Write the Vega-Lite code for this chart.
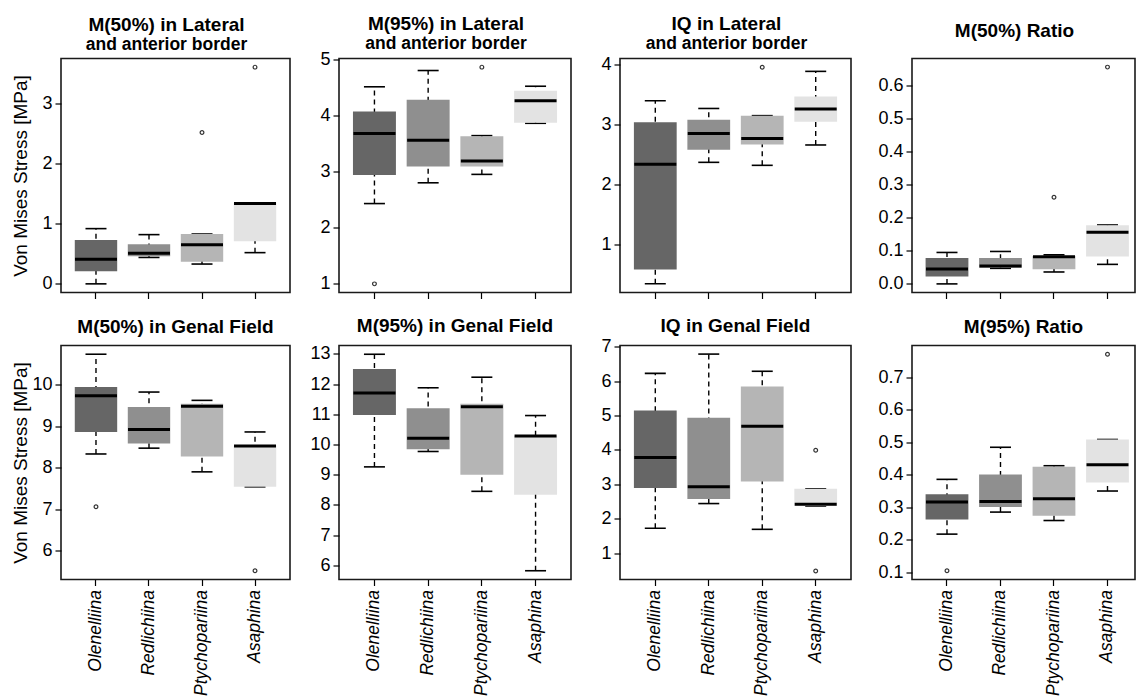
{
"$schema": "https://vega.github.io/schema/vega-lite/v6.json",
"background": "white",
"padding": {"left": 10, "top": 13.5, "right": 0, "bottom": 0},
"datasets": {
"boxes": [
{"panel":"p1","group":"Olenelliina","lower":0.00,"q1":0.21,"median":0.41,"q3":0.73,"upper":0.92},
{"panel":"p1","group":"Redlichiina","lower":0.44,"q1":0.46,"median":0.51,"q3":0.66,"upper":0.82},
{"panel":"p1","group":"Ptychopariina","lower":0.33,"q1":0.37,"median":0.65,"q3":0.83,"upper":0.83},
{"panel":"p1","group":"Asaphina","lower":0.52,"q1":0.71,"median":1.34,"q3":1.35,"upper":1.35},
{"panel":"p2","group":"Olenelliina","lower":2.43,"q1":2.94,"median":3.68,"q3":4.07,"upper":4.51},
{"panel":"p2","group":"Redlichiina","lower":2.80,"q1":3.09,"median":3.56,"q3":4.28,"upper":4.80},
{"panel":"p2","group":"Ptychopariina","lower":2.95,"q1":3.09,"median":3.19,"q3":3.63,"upper":3.64},
{"panel":"p2","group":"Asaphina","lower":3.86,"q1":3.87,"median":4.26,"q3":4.44,"upper":4.52},
{"panel":"p3","group":"Olenelliina","lower":0.34,"q1":0.58,"median":2.34,"q3":3.04,"upper":3.40},
{"panel":"p3","group":"Redlichiina","lower":2.37,"q1":2.58,"median":2.85,"q3":3.08,"upper":3.27},
{"panel":"p3","group":"Ptychopariina","lower":2.32,"q1":2.67,"median":2.77,"q3":3.15,"upper":3.15},
{"panel":"p3","group":"Asaphina","lower":2.66,"q1":3.05,"median":3.26,"q3":3.47,"upper":3.89},
{"panel":"p4","group":"Olenelliina","lower":0.000,"q1":0.022,"median":0.045,"q3":0.078,"upper":0.095},
{"panel":"p4","group":"Redlichiina","lower":0.047,"q1":0.049,"median":0.054,"q3":0.078,"upper":0.098},
{"panel":"p4","group":"Ptychopariina","lower":0.036,"q1":0.044,"median":0.082,"q3":0.084,"upper":0.088},
{"panel":"p4","group":"Asaphina","lower":0.059,"q1":0.083,"median":0.156,"q3":0.177,"upper":0.178},
{"panel":"p5","group":"Olenelliina","lower":8.33,"q1":8.86,"median":9.73,"q3":9.94,"upper":10.73},
{"panel":"p5","group":"Redlichiina","lower":8.47,"q1":8.58,"median":8.92,"q3":9.46,"upper":9.82},
{"panel":"p5","group":"Ptychopariina","lower":7.90,"q1":8.27,"median":9.48,"q3":9.54,"upper":9.62},
{"panel":"p5","group":"Asaphina","lower":7.54,"q1":7.54,"median":8.52,"q3":8.53,"upper":8.86},
{"panel":"p6","group":"Olenelliina","lower":9.26,"q1":10.98,"median":11.71,"q3":12.50,"upper":12.99},
{"panel":"p6","group":"Redlichiina","lower":9.77,"q1":9.84,"median":10.21,"q3":11.20,"upper":11.88},
{"panel":"p6","group":"Ptychopariina","lower":8.45,"q1":9.00,"median":11.25,"q3":11.35,"upper":12.23},
{"panel":"p6","group":"Asaphina","lower":5.82,"q1":8.34,"median":10.28,"q3":10.29,"upper":10.96},
{"panel":"p7","group":"Olenelliina","lower":1.72,"q1":2.89,"median":3.78,"q3":5.15,"upper":6.23},
{"panel":"p7","group":"Redlichiina","lower":2.44,"q1":2.57,"median":2.93,"q3":4.94,"upper":6.79},
{"panel":"p7","group":"Ptychopariina","lower":1.69,"q1":3.08,"median":4.69,"q3":5.85,"upper":6.29},
{"panel":"p7","group":"Asaphina","lower":2.37,"q1":2.37,"median":2.42,"q3":2.87,"upper":2.87},
{"panel":"p8","group":"Olenelliina","lower":0.217,"q1":0.262,"median":0.316,"q3":0.340,"upper":0.386},
{"panel":"p8","group":"Redlichiina","lower":0.285,"q1":0.301,"median":0.318,"q3":0.401,"upper":0.485},
{"panel":"p8","group":"Ptychopariina","lower":0.259,"q1":0.274,"median":0.326,"q3":0.425,"upper":0.428},
{"panel":"p8","group":"Asaphina","lower":0.350,"q1":0.376,"median":0.431,"q3":0.509,"upper":0.509}
],
"outliers": [
{"panel":"p1","group":"Ptychopariina","value":2.52},
{"panel":"p1","group":"Asaphina","value":3.61},
{"panel":"p2","group":"Olenelliina","value":1.00},
{"panel":"p2","group":"Ptychopariina","value":4.86},
{"panel":"p3","group":"Ptychopariina","value":3.96},
{"panel":"p4","group":"Ptychopariina","value":0.262},
{"panel":"p4","group":"Asaphina","value":0.655},
{"panel":"p5","group":"Olenelliina","value":7.06},
{"panel":"p5","group":"Asaphina","value":5.52},
{"panel":"p7","group":"Asaphina","value":3.99},
{"panel":"p7","group":"Asaphina","value":0.48},
{"panel":"p8","group":"Olenelliina","value":0.104},
{"panel":"p8","group":"Asaphina","value":0.772}
]
},
"columns": 7,
"align": "each",
"bounds": "flush",
"spacing": {"row": 53, "column": 0},
"concat": [
{
"title": {"text": "M(50%) in Lateral", "subtitle": "and anterior border", "offset": 5.5, "dx": -9},
"width": 229, "height": 234,
"data": {"name": "boxes"}, "transform": [{"filter": "datum.panel === 'p1'"}],
"encoding": {"x": {"field": "group", "type": "nominal", "title": null, "scale": {"domain": ["Olenelliina","Redlichiina","Ptychopariina","Asaphina"], "paddingInner": 0.2, "paddingOuter": 0.26}, "axis": {"labels": false}}},
"layer": [
{"mark": {"type": "rule", "strokeDash": [5,4], "strokeWidth": 1.4, "color": "black"}, "encoding": {"y": {"field": "lower", "type": "quantitative", "scale": {"domain": [-0.144,3.754], "nice": false, "zero": false}, "axis": {"values": [0,1,2,3], "title": "Von Mises Stress [MPa]", "titleX": -35, "titleY": 117, "titleBaseline": "alphabetic"}}, "y2": {"field": "upper"}}},
{"transform": [{"fold": ["lower","upper"], "as": ["end","cap"]}], "mark": {"type": "tick", "size": 21, "thickness": 1.6, "color": "black", "opacity": 1}, "encoding": {"y": {"field": "cap", "type": "quantitative", "scale": {"domain": [-0.144,3.754], "nice": false, "zero": false}, "axis": {"values": [0,1,2,3], "title": "Von Mises Stress [MPa]", "titleX": -35, "titleY": 117, "titleBaseline": "alphabetic"}}}},
{"mark": {"type": "bar", "opacity": 1}, "encoding": {"y": {"field": "q1", "type": "quantitative", "scale": {"domain": [-0.144,3.754], "nice": false, "zero": false}, "axis": {"values": [0,1,2,3], "title": "Von Mises Stress [MPa]", "titleX": -35, "titleY": 117, "titleBaseline": "alphabetic"}}, "y2": {"field": "q3"}, "color": {"field": "group", "type": "nominal", "scale": {"domain": ["Olenelliina","Redlichiina","Ptychopariina","Asaphina"], "range": ["#666666","#8f8f8f","#b5b5b5","#e3e3e3"]}, "legend": null}}},
{"mark": {"type": "tick", "size": 42, "thickness": 3, "color": "black", "opacity": 1}, "encoding": {"y": {"field": "median", "type": "quantitative", "scale": {"domain": [-0.144,3.754], "nice": false, "zero": false}, "axis": {"values": [0,1,2,3], "title": "Von Mises Stress [MPa]", "titleX": -35, "titleY": 117, "titleBaseline": "alphabetic"}}}},
{"data": {"name": "outliers"}, "transform": [{"filter": "datum.panel === 'p1'"}], "mark": {"type": "point", "filled": false, "size": 14, "strokeWidth": 1.2, "color": "#333333", "opacity": 1}, "encoding": {"y": {"field": "value", "type": "quantitative", "scale": {"domain": [-0.144,3.754], "nice": false, "zero": false}, "axis": {"values": [0,1,2,3], "title": "Von Mises Stress [MPa]", "titleX": -35, "titleY": 117, "titleBaseline": "alphabetic"}}}}
]
},
{"width": 49, "height": 234, "data": {"values": [{"s": ""}]}, "mark": {"type": "text", "text": ""}, "view": {"stroke": null}},
{
"title": {"text": "M(95%) in Lateral", "subtitle": "and anterior border", "offset": -2, "dx": -9},
"width": 232, "height": 234,
"data": {"name": "boxes"}, "transform": [{"filter": "datum.panel === 'p2'"}],
"encoding": {"x": {"field": "group", "type": "nominal", "title": null, "scale": {"domain": ["Olenelliina","Redlichiina","Ptychopariina","Asaphina"], "paddingInner": 0.2, "paddingOuter": 0.26}, "axis": {"labels": false}}},
"layer": [
{"mark": {"type": "rule", "strokeDash": [5,4], "strokeWidth": 1.4, "color": "black"}, "encoding": {"y": {"field": "lower", "type": "quantitative", "scale": {"domain": [0.846,5.014], "nice": false, "zero": false}, "axis": {"values": [1,2,3,4,5], "title": null}}, "y2": {"field": "upper"}}},
{"transform": [{"fold": ["lower","upper"], "as": ["end","cap"]}], "mark": {"type": "tick", "size": 21, "thickness": 1.6, "color": "black", "opacity": 1}, "encoding": {"y": {"field": "cap", "type": "quantitative", "scale": {"domain": [0.846,5.014], "nice": false, "zero": false}, "axis": {"values": [1,2,3,4,5], "title": null}}}},
{"mark": {"type": "bar", "opacity": 1}, "encoding": {"y": {"field": "q1", "type": "quantitative", "scale": {"domain": [0.846,5.014], "nice": false, "zero": false}, "axis": {"values": [1,2,3,4,5], "title": null}}, "y2": {"field": "q3"}, "color": {"field": "group", "type": "nominal", "scale": {"domain": ["Olenelliina","Redlichiina","Ptychopariina","Asaphina"], "range": ["#666666","#8f8f8f","#b5b5b5","#e3e3e3"]}, "legend": null}}},
{"mark": {"type": "tick", "size": 42, "thickness": 3, "color": "black", "opacity": 1}, "encoding": {"y": {"field": "median", "type": "quantitative", "scale": {"domain": [0.846,5.014], "nice": false, "zero": false}, "axis": {"values": [1,2,3,4,5], "title": null}}}},
{"data": {"name": "outliers"}, "transform": [{"filter": "datum.panel === 'p2'"}], "mark": {"type": "point", "filled": false, "size": 14, "strokeWidth": 1.2, "color": "#333333", "opacity": 1}, "encoding": {"y": {"field": "value", "type": "quantitative", "scale": {"domain": [0.846,5.014], "nice": false, "zero": false}, "axis": {"values": [1,2,3,4,5], "title": null}}}}
]
},
{"width": 49, "height": 234, "data": {"values": [{"s": ""}]}, "mark": {"type": "text", "text": ""}, "view": {"stroke": null}},
{
"title": {"text": "IQ in Lateral", "subtitle": "and anterior border", "offset": 3, "dx": -9},
"width": 231, "height": 234,
"data": {"name": "boxes"}, "transform": [{"filter": "datum.panel === 'p3'"}],
"encoding": {"x": {"field": "group", "type": "nominal", "title": null, "scale": {"domain": ["Olenelliina","Redlichiina","Ptychopariina","Asaphina"], "paddingInner": 0.2, "paddingOuter": 0.26}, "axis": {"labels": false}}},
"layer": [
{"mark": {"type": "rule", "strokeDash": [5,4], "strokeWidth": 1.4, "color": "black"}, "encoding": {"y": {"field": "lower", "type": "quantitative", "scale": {"domain": [0.195,4.105], "nice": false, "zero": false}, "axis": {"values": [1,2,3,4], "title": null}}, "y2": {"field": "upper"}}},
{"transform": [{"fold": ["lower","upper"], "as": ["end","cap"]}], "mark": {"type": "tick", "size": 21, "thickness": 1.6, "color": "black", "opacity": 1}, "encoding": {"y": {"field": "cap", "type": "quantitative", "scale": {"domain": [0.195,4.105], "nice": false, "zero": false}, "axis": {"values": [1,2,3,4], "title": null}}}},
{"mark": {"type": "bar", "opacity": 1}, "encoding": {"y": {"field": "q1", "type": "quantitative", "scale": {"domain": [0.195,4.105], "nice": false, "zero": false}, "axis": {"values": [1,2,3,4], "title": null}}, "y2": {"field": "q3"}, "color": {"field": "group", "type": "nominal", "scale": {"domain": ["Olenelliina","Redlichiina","Ptychopariina","Asaphina"], "range": ["#666666","#8f8f8f","#b5b5b5","#e3e3e3"]}, "legend": null}}},
{"mark": {"type": "tick", "size": 42, "thickness": 3, "color": "black", "opacity": 1}, "encoding": {"y": {"field": "median", "type": "quantitative", "scale": {"domain": [0.195,4.105], "nice": false, "zero": false}, "axis": {"values": [1,2,3,4], "title": null}}}},
{"data": {"name": "outliers"}, "transform": [{"filter": "datum.panel === 'p3'"}], "mark": {"type": "point", "filled": false, "size": 14, "strokeWidth": 1.2, "color": "#333333", "opacity": 1}, "encoding": {"y": {"field": "value", "type": "quantitative", "scale": {"domain": [0.195,4.105], "nice": false, "zero": false}, "axis": {"values": [1,2,3,4], "title": null}}}}
]
},
{"width": 61, "height": 234, "data": {"values": [{"s": ""}]}, "mark": {"type": "text", "text": ""}, "view": {"stroke": null}},
{
"title": {"text": "M(50%) Ratio", "offset": 18, "dx": -9},
"width": 223, "height": 234,
"data": {"name": "boxes"}, "transform": [{"filter": "datum.panel === 'p4'"}],
"encoding": {"x": {"field": "group", "type": "nominal", "title": null, "scale": {"domain": ["Olenelliina","Redlichiina","Ptychopariina","Asaphina"], "paddingInner": 0.2, "paddingOuter": 0.184, "align": 0.69}, "axis": {"labels": false}}},
"layer": [
{"mark": {"type": "rule", "strokeDash": [5,4], "strokeWidth": 1.4, "color": "black"}, "encoding": {"y": {"field": "lower", "type": "quantitative", "scale": {"domain": [-0.026,0.681], "nice": false, "zero": false}, "axis": {"values": [0,0.1,0.2,0.3,0.4,0.5,0.6], "format": ".1f", "title": null}}, "y2": {"field": "upper"}}},
{"transform": [{"fold": ["lower","upper"], "as": ["end","cap"]}], "mark": {"type": "tick", "size": 21, "thickness": 1.6, "color": "black", "opacity": 1}, "encoding": {"y": {"field": "cap", "type": "quantitative", "scale": {"domain": [-0.026,0.681], "nice": false, "zero": false}, "axis": {"values": [0,0.1,0.2,0.3,0.4,0.5,0.6], "format": ".1f", "title": null}}}},
{"mark": {"type": "bar", "opacity": 1}, "encoding": {"y": {"field": "q1", "type": "quantitative", "scale": {"domain": [-0.026,0.681], "nice": false, "zero": false}, "axis": {"values": [0,0.1,0.2,0.3,0.4,0.5,0.6], "format": ".1f", "title": null}}, "y2": {"field": "q3"}, "color": {"field": "group", "type": "nominal", "scale": {"domain": ["Olenelliina","Redlichiina","Ptychopariina","Asaphina"], "range": ["#666666","#8f8f8f","#b5b5b5","#e3e3e3"]}, "legend": null}}},
{"mark": {"type": "tick", "size": 42, "thickness": 3, "color": "black", "opacity": 1}, "encoding": {"y": {"field": "median", "type": "quantitative", "scale": {"domain": [-0.026,0.681], "nice": false, "zero": false}, "axis": {"values": [0,0.1,0.2,0.3,0.4,0.5,0.6], "format": ".1f", "title": null}}}},
{"data": {"name": "outliers"}, "transform": [{"filter": "datum.panel === 'p4'"}], "mark": {"type": "point", "filled": false, "size": 14, "strokeWidth": 1.2, "color": "#333333", "opacity": 1}, "encoding": {"y": {"field": "value", "type": "quantitative", "scale": {"domain": [-0.026,0.681], "nice": false, "zero": false}, "axis": {"values": [0,0.1,0.2,0.3,0.4,0.5,0.6], "format": ".1f", "title": null}}}}
]
},
{
"title": {"text": "M(50%) in Genal Field", "offset": 9},
"width": 229, "height": 234,
"data": {"name": "boxes"}, "transform": [{"filter": "datum.panel === 'p5'"}],
"encoding": {"x": {"field": "group", "type": "nominal", "title": null, "scale": {"domain": ["Olenelliina","Redlichiina","Ptychopariina","Asaphina"], "paddingInner": 0.2, "paddingOuter": 0.26}, "axis": {"labelAngle": -90, "labelFontStyle": "italic", "labelFontSize": 17.5, "labelAlign": "right", "labelBaseline": "middle", "labelPadding": 4}}},
"layer": [
{"mark": {"type": "rule", "strokeDash": [5,4], "strokeWidth": 1.4, "color": "black"}, "encoding": {"y": {"field": "lower", "type": "quantitative", "scale": {"domain": [5.31,10.94], "nice": false, "zero": false}, "axis": {"values": [6,7,8,9,10], "title": "Von Mises Stress [MPa]", "titleX": -35, "titleY": 117, "titleBaseline": "alphabetic"}}, "y2": {"field": "upper"}}},
{"transform": [{"fold": ["lower","upper"], "as": ["end","cap"]}], "mark": {"type": "tick", "size": 21, "thickness": 1.6, "color": "black", "opacity": 1}, "encoding": {"y": {"field": "cap", "type": "quantitative", "scale": {"domain": [5.31,10.94], "nice": false, "zero": false}, "axis": {"values": [6,7,8,9,10], "title": "Von Mises Stress [MPa]", "titleX": -35, "titleY": 117, "titleBaseline": "alphabetic"}}}},
{"mark": {"type": "bar", "opacity": 1}, "encoding": {"y": {"field": "q1", "type": "quantitative", "scale": {"domain": [5.31,10.94], "nice": false, "zero": false}, "axis": {"values": [6,7,8,9,10], "title": "Von Mises Stress [MPa]", "titleX": -35, "titleY": 117, "titleBaseline": "alphabetic"}}, "y2": {"field": "q3"}, "color": {"field": "group", "type": "nominal", "scale": {"domain": ["Olenelliina","Redlichiina","Ptychopariina","Asaphina"], "range": ["#666666","#8f8f8f","#b5b5b5","#e3e3e3"]}, "legend": null}}},
{"mark": {"type": "tick", "size": 42, "thickness": 3, "color": "black", "opacity": 1}, "encoding": {"y": {"field": "median", "type": "quantitative", "scale": {"domain": [5.31,10.94], "nice": false, "zero": false}, "axis": {"values": [6,7,8,9,10], "title": "Von Mises Stress [MPa]", "titleX": -35, "titleY": 117, "titleBaseline": "alphabetic"}}}},
{"data": {"name": "outliers"}, "transform": [{"filter": "datum.panel === 'p5'"}], "mark": {"type": "point", "filled": false, "size": 14, "strokeWidth": 1.2, "color": "#333333", "opacity": 1}, "encoding": {"y": {"field": "value", "type": "quantitative", "scale": {"domain": [5.31,10.94], "nice": false, "zero": false}, "axis": {"values": [6,7,8,9,10], "title": "Von Mises Stress [MPa]", "titleX": -35, "titleY": 117, "titleBaseline": "alphabetic"}}}}
]
},
{"width": 49, "height": 234, "data": {"values": [{"s": ""}]}, "mark": {"type": "text", "text": ""}, "view": {"stroke": null}},
{
"title": {"text": "M(95%) in Genal Field", "offset": 8.5},
"width": 232, "height": 234,
"data": {"name": "boxes"}, "transform": [{"filter": "datum.panel === 'p6'"}],
"encoding": {"x": {"field": "group", "type": "nominal", "title": null, "scale": {"domain": ["Olenelliina","Redlichiina","Ptychopariina","Asaphina"], "paddingInner": 0.2, "paddingOuter": 0.26}, "axis": {"labelAngle": -90, "labelFontStyle": "italic", "labelFontSize": 17.5, "labelAlign": "right", "labelBaseline": "middle", "labelPadding": 4}}},
"layer": [
{"mark": {"type": "rule", "strokeDash": [5,4], "strokeWidth": 1.4, "color": "black"}, "encoding": {"y": {"field": "lower", "type": "quantitative", "scale": {"domain": [5.53,13.28], "nice": false, "zero": false}, "axis": {"values": [6,7,8,9,10,11,12,13], "title": null}}, "y2": {"field": "upper"}}},
{"transform": [{"fold": ["lower","upper"], "as": ["end","cap"]}], "mark": {"type": "tick", "size": 21, "thickness": 1.6, "color": "black", "opacity": 1}, "encoding": {"y": {"field": "cap", "type": "quantitative", "scale": {"domain": [5.53,13.28], "nice": false, "zero": false}, "axis": {"values": [6,7,8,9,10,11,12,13], "title": null}}}},
{"mark": {"type": "bar", "opacity": 1}, "encoding": {"y": {"field": "q1", "type": "quantitative", "scale": {"domain": [5.53,13.28], "nice": false, "zero": false}, "axis": {"values": [6,7,8,9,10,11,12,13], "title": null}}, "y2": {"field": "q3"}, "color": {"field": "group", "type": "nominal", "scale": {"domain": ["Olenelliina","Redlichiina","Ptychopariina","Asaphina"], "range": ["#666666","#8f8f8f","#b5b5b5","#e3e3e3"]}, "legend": null}}},
{"mark": {"type": "tick", "size": 42, "thickness": 3, "color": "black", "opacity": 1}, "encoding": {"y": {"field": "median", "type": "quantitative", "scale": {"domain": [5.53,13.28], "nice": false, "zero": false}, "axis": {"values": [6,7,8,9,10,11,12,13], "title": null}}}},
{"data": {"name": "outliers"}, "transform": [{"filter": "datum.panel === 'p6'"}], "mark": {"type": "point", "filled": false, "size": 14, "strokeWidth": 1.2, "color": "#333333", "opacity": 1}, "encoding": {"y": {"field": "value", "type": "quantitative", "scale": {"domain": [5.53,13.28], "nice": false, "zero": false}, "axis": {"values": [6,7,8,9,10,11,12,13], "title": null}}}}
]
},
{"width": 49, "height": 234, "data": {"values": [{"s": ""}]}, "mark": {"type": "text", "text": ""}, "view": {"stroke": null}},
{
"title": {"text": "IQ in Genal Field", "offset": 1.5},
"width": 231, "height": 234,
"data": {"name": "boxes"}, "transform": [{"filter": "datum.panel === 'p7'"}],
"encoding": {"x": {"field": "group", "type": "nominal", "title": null, "scale": {"domain": ["Olenelliina","Redlichiina","Ptychopariina","Asaphina"], "paddingInner": 0.2, "paddingOuter": 0.26}, "axis": {"labelAngle": -90, "labelFontStyle": "italic", "labelFontSize": 17.5, "labelAlign": "right", "labelBaseline": "middle", "labelPadding": 4}}},
"layer": [
{"mark": {"type": "rule", "strokeDash": [5,4], "strokeWidth": 1.4, "color": "black"}, "encoding": {"y": {"field": "lower", "type": "quantitative", "scale": {"domain": [0.23,7.04], "nice": false, "zero": false}, "axis": {"values": [1,2,3,4,5,6,7], "title": null}}, "y2": {"field": "upper"}}},
{"transform": [{"fold": ["lower","upper"], "as": ["end","cap"]}], "mark": {"type": "tick", "size": 21, "thickness": 1.6, "color": "black", "opacity": 1}, "encoding": {"y": {"field": "cap", "type": "quantitative", "scale": {"domain": [0.23,7.04], "nice": false, "zero": false}, "axis": {"values": [1,2,3,4,5,6,7], "title": null}}}},
{"mark": {"type": "bar", "opacity": 1}, "encoding": {"y": {"field": "q1", "type": "quantitative", "scale": {"domain": [0.23,7.04], "nice": false, "zero": false}, "axis": {"values": [1,2,3,4,5,6,7], "title": null}}, "y2": {"field": "q3"}, "color": {"field": "group", "type": "nominal", "scale": {"domain": ["Olenelliina","Redlichiina","Ptychopariina","Asaphina"], "range": ["#666666","#8f8f8f","#b5b5b5","#e3e3e3"]}, "legend": null}}},
{"mark": {"type": "tick", "size": 42, "thickness": 3, "color": "black", "opacity": 1}, "encoding": {"y": {"field": "median", "type": "quantitative", "scale": {"domain": [0.23,7.04], "nice": false, "zero": false}, "axis": {"values": [1,2,3,4,5,6,7], "title": null}}}},
{"data": {"name": "outliers"}, "transform": [{"filter": "datum.panel === 'p7'"}], "mark": {"type": "point", "filled": false, "size": 14, "strokeWidth": 1.2, "color": "#333333", "opacity": 1}, "encoding": {"y": {"field": "value", "type": "quantitative", "scale": {"domain": [0.23,7.04], "nice": false, "zero": false}, "axis": {"values": [1,2,3,4,5,6,7], "title": null}}}}
]
},
{"width": 61, "height": 234, "data": {"values": [{"s": ""}]}, "mark": {"type": "text", "text": ""}, "view": {"stroke": null}},
{
"title": {"text": "M(95%) Ratio", "offset": 9},
"width": 223, "height": 234,
"data": {"name": "boxes"}, "transform": [{"filter": "datum.panel === 'p8'"}],
"encoding": {"x": {"field": "group", "type": "nominal", "title": null, "scale": {"domain": ["Olenelliina","Redlichiina","Ptychopariina","Asaphina"], "paddingInner": 0.2, "paddingOuter": 0.184, "align": 0.69}, "axis": {"labelAngle": -90, "labelFontStyle": "italic", "labelFontSize": 17.5, "labelAlign": "right", "labelBaseline": "middle", "labelPadding": 4}}},
"layer": [
{"mark": {"type": "rule", "strokeDash": [5,4], "strokeWidth": 1.4, "color": "black"}, "encoding": {"y": {"field": "lower", "type": "quantitative", "scale": {"domain": [0.077,0.799], "nice": false, "zero": false}, "axis": {"values": [0.1,0.2,0.3,0.4,0.5,0.6,0.7], "format": ".1f", "title": null}}, "y2": {"field": "upper"}}},
{"transform": [{"fold": ["lower","upper"], "as": ["end","cap"]}], "mark": {"type": "tick", "size": 21, "thickness": 1.6, "color": "black", "opacity": 1}, "encoding": {"y": {"field": "cap", "type": "quantitative", "scale": {"domain": [0.077,0.799], "nice": false, "zero": false}, "axis": {"values": [0.1,0.2,0.3,0.4,0.5,0.6,0.7], "format": ".1f", "title": null}}}},
{"mark": {"type": "bar", "opacity": 1}, "encoding": {"y": {"field": "q1", "type": "quantitative", "scale": {"domain": [0.077,0.799], "nice": false, "zero": false}, "axis": {"values": [0.1,0.2,0.3,0.4,0.5,0.6,0.7], "format": ".1f", "title": null}}, "y2": {"field": "q3"}, "color": {"field": "group", "type": "nominal", "scale": {"domain": ["Olenelliina","Redlichiina","Ptychopariina","Asaphina"], "range": ["#666666","#8f8f8f","#b5b5b5","#e3e3e3"]}, "legend": null}}},
{"mark": {"type": "tick", "size": 42, "thickness": 3, "color": "black", "opacity": 1}, "encoding": {"y": {"field": "median", "type": "quantitative", "scale": {"domain": [0.077,0.799], "nice": false, "zero": false}, "axis": {"values": [0.1,0.2,0.3,0.4,0.5,0.6,0.7], "format": ".1f", "title": null}}}},
{"data": {"name": "outliers"}, "transform": [{"filter": "datum.panel === 'p8'"}], "mark": {"type": "point", "filled": false, "size": 14, "strokeWidth": 1.2, "color": "#333333", "opacity": 1}, "encoding": {"y": {"field": "value", "type": "quantitative", "scale": {"domain": [0.077,0.799], "nice": false, "zero": false}, "axis": {"values": [0.1,0.2,0.3,0.4,0.5,0.6,0.7], "format": ".1f", "title": null}}}}
]
}
],
"config": {
"font": "Liberation Sans",
"view": {"stroke": "#1a1a1a", "strokeWidth": 1.6},
"axis": {"labelFont": "Liberation Sans", "labelFontSize": 18, "labelColor": "black", "tickColor": "black", "tickSize": 6, "tickWidth": 1.2, "domain": false, "grid": false, "labelPadding": 3, "titleFont": "Liberation Sans", "titleFontSize": 19, "titleFontWeight": "normal", "titleColor": "black"},
"title": {"font": "Liberation Sans", "fontSize": 19, "fontWeight": "bold", "color": "black", "subtitleFont": "Liberation Sans", "subtitleFontSize": 17.5, "subtitleFontWeight": "bold", "subtitleColor": "black", "subtitlePadding": 1, "anchor": "middle", "frame": "group"}
}
}
